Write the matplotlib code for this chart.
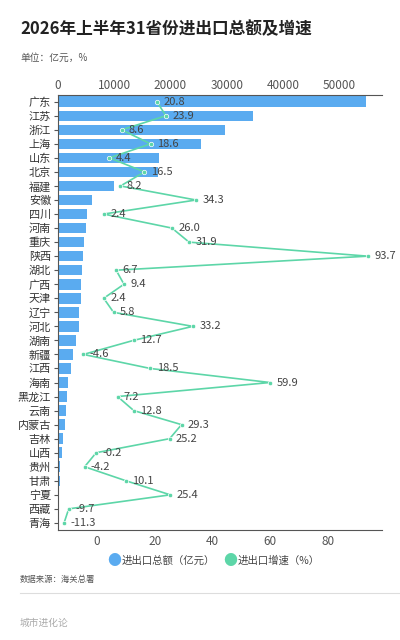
import matplotlib.pyplot as plt

plt.rcParams['font.family'] = ['Noto Sans CJK SC', 'DejaVu Sans']

provinces = ["广东", "江苏", "浙江", "上海", "山东", "北京", "福建", "安徽", "四川", "河南",
             "重庆", "陕西", "湖北", "广西", "天津", "辽宁", "河北", "湖南", "新疆", "江西",
             "海南", "黑龙江", "云南", "内蒙古", "吉林", "山西", "贵州", "甘肃", "宁夏", "西藏", "青海"]
totals = [54800, 34750, 29600, 25350, 17900, 17700, 9900, 6000, 5150, 5000,
          4600, 4500, 4200, 4000, 4000, 3800, 3700, 3200, 2700, 2300,
          1800, 1600, 1400, 1300, 900, 700, 350, 300, 80, 30, 20]
growth = [20.8, 23.9, 8.6, 18.6, 4.4, 16.5, 8.2, 34.3, 2.4, 26.0,
          31.9, 93.7, 6.7, 9.4, 2.4, 5.8, 33.2, 12.7, -4.6, 18.5,
          59.9, 7.2, 12.8, 29.3, 25.2, -0.2, -4.2, 10.1, 25.4, -9.7, -11.3]

bar_color = "#5aabf0"
line_color = "#5dd6a8"
grey = "#555555"

fig = plt.figure(figsize=(4, 6.4), dpi=100)
ax = fig.add_axes([0.145, 0.172, 0.81, 0.68])
y = list(range(len(provinces)))

ax.barh(y, totals, height=0.75, color=bar_color, zorder=2)

ax2 = ax.twiny()
ax2.plot(growth, y, color=line_color, lw=1.2, marker="o", ms=3.2,
         markerfacecolor=line_color, markeredgecolor="white", mew=0.5, zorder=3)
ax2.set_xlim(-13.4, 98.6)
ax2.xaxis.set_ticks_position("bottom")
ax2.set_xticks([0, 20, 40, 60, 80])
ax2.tick_params(axis="x", labelsize=8.5, colors=grey, length=0, pad=4)
for s in ["top", "right", "left"]:
    ax2.spines[s].set_visible(False)
ax2.spines["bottom"].set_color(grey)
for g, yy in zip(growth, y):
    ax2.text(g + 2.2, yy, f"{g:.1f}", fontsize=8, color="#444444", va="center", ha="left")

ax.set_ylim(len(provinces) - 0.5, -0.5)
ax2.set_ylim(len(provinces) - 0.5, -0.5)
ax.set_xlim(0, 57600)
ax.set_yticks(y)
ax.set_yticklabels(provinces, fontsize=8, color="#333333")
ax.xaxis.set_ticks_position("top")
ax.set_xticks([0, 10000, 20000, 30000, 40000, 50000])
ax.tick_params(axis="x", labelsize=8.5, colors=grey, length=0, pad=2,
               top=True, labeltop=True, bottom=False, labelbottom=False)
ax.tick_params(axis="y", length=3, color=grey, pad=2)
for s in ["right", "bottom"]:
    ax.spines[s].set_visible(False)
ax.spines["left"].set_color(grey)
ax.spines["top"].set_color(grey)

# legend
ly = 0.124
fig.text(0.285, ly, "●", color=bar_color, fontsize=10, ha="center", va="center")
fig.text(0.305, ly, "进出口总额（亿元）", fontsize=7.5, color="#444444", va="center")
fig.text(0.575, ly, "●", color=line_color, fontsize=10, ha="center", va="center")
fig.text(0.595, ly, "进出口增速（%）", fontsize=7.5, color="#444444", va="center")

fig.text(0.05, 0.947, "2026年上半年31省份进出口总额及增速", fontsize=12, fontweight="bold", color="#222222")
fig.text(0.05, 0.905, "单位：亿元，%", fontsize=7, color="#555555")
fig.text(0.05, 0.09, "数据来源：海关总署", fontsize=6, color="#555555")
fig.add_artist(plt.Line2D([0.05, 1.0], [0.073, 0.073], color="#dddddd", lw=0.8))
fig.text(0.05, 0.022, "城市进化论", fontsize=7, color="#aaaaaa")

fig.savefig("out.png", dpi=100, facecolor="white")
